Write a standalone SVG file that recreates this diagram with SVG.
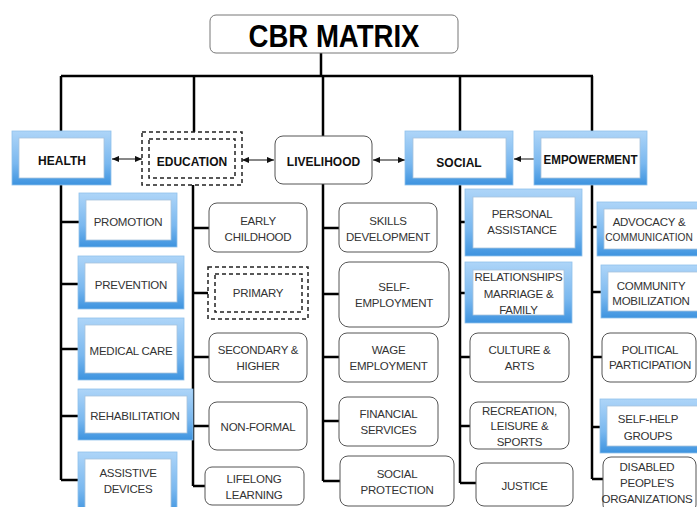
<svg xmlns="http://www.w3.org/2000/svg" width="697" height="507" viewBox="0 0 697 507">
<defs>
<linearGradient id="blueg" x1="0" y1="0" x2="0" y2="1">
<stop offset="0" stop-color="#aed5f8"/>
<stop offset="0.6" stop-color="#7ab8ef"/>
<stop offset="1" stop-color="#3d93df"/>
</linearGradient>
<marker id="ah" viewBox="0 0 8 8" refX="8" refY="4" markerWidth="7" markerHeight="7" markerUnits="userSpaceOnUse" orient="auto-start-reverse">
<path d="M0,0.5 L8,4 L0,7.5 Z" fill="#111"/>
</marker>
</defs>
<style>
.bg{fill:#fff}
.outer{fill:url(#blueg);stroke:#8fc0ec;stroke-width:0.8}
.inner{fill:#fff;stroke:#a8c3dc;stroke-width:0.8}
.rbox{fill:#fff;stroke:#555;stroke-width:1}
.dash{fill:#fff;stroke:#222;stroke-width:1.5;stroke-dasharray:4 3}
.dashin{fill:none;stroke:#222;stroke-width:1.5;stroke-dasharray:4 3}
.conn{fill:none;stroke:#000;stroke-width:2.5}
.arr{fill:none;stroke:#111;stroke-width:1}
.main{font-family:"Liberation Sans",Arial,sans-serif;font-weight:bold;font-size:12px;fill:#111;text-anchor:middle}
.sub{font-family:"Liberation Sans",Arial,sans-serif;font-size:11.5px;fill:#333;text-anchor:middle;letter-spacing:-0.25px}
.title{font-family:"Liberation Sans",Arial,sans-serif;font-weight:bold;font-size:32px;fill:#000;text-anchor:middle}
</style>
<rect class="bg" x="0" y="0" width="697" height="507"/>

<g id="connectors">
<path class="conn" d="M321,53 V76 M61,76 H593 M61,76 V131 M194,76 V132 M323,76 V136 M460,76 V131 M592,76 V131"/>
<path class="conn" d="M61,185 V480 M61,222 H80 M61,284 H79 M61,349 H79 M61,416 H79 M61,480 H79"/>
<path class="conn" d="M193,185 V486 M193,228 H210 M193,293 H209 M193,357 H210 M193,426 H210 M193,486 H206"/>
<path class="conn" d="M323,184 V481 M323,228 H340 M323,294 H340 M323,357 H340 M323,421 H340 M323,481 H341"/>
<path class="conn" d="M460,185 V483 M460,222 H466 M460,293 H466 M460,357 H471 M460,426 H471 M460,483 H477"/>
<path class="conn" d="M592,185 V479 M592,227 H598 M592,292 H602 M592,357 H603 M592,427 H601 M592,479 H604"/>
<path class="arr" marker-start="url(#ah)" marker-end="url(#ah)" d="M112,159 H142"/>
<path class="arr" marker-start="url(#ah)" marker-end="url(#ah)" d="M242,160 H274"/>
<path class="arr" marker-start="url(#ah)" marker-end="url(#ah)" d="M373,160 H405"/>
<path class="arr" marker-end="url(#ah)" d="M534,159 H514"/>
</g>

<g id="title">
<rect x="210" y="15" width="248" height="38" rx="6" fill="#fff" stroke="#777" stroke-width="1"/>
<text class="title" x="334" y="47" textLength="171" lengthAdjust="spacingAndGlyphs">CBR MATRIX</text>
</g>

<g id="health">
<rect class="outer" x="12" y="131" width="99" height="54"/>
<rect class="inner" x="19" y="138" width="85" height="40"/>
<text class="main" x="62" y="165">HEALTH</text>
</g>
<g id="education">
<rect class="dash" x="142" y="132" width="100" height="53"/>
<rect class="dashin" x="149" y="139" width="86" height="39"/>
<text class="main" x="192" y="166">EDUCATION</text>
</g>
<g id="livelihood">
<rect class="rbox" x="275" y="136" width="97" height="48" rx="8"/>
<text class="main" x="323.5" y="166">LIVELIHOOD</text>
</g>
<g id="social">
<rect class="outer" x="405" y="131" width="108" height="54"/>
<rect class="inner" x="413" y="138" width="93" height="40"/>
<text class="main" x="459" y="167">SOCIAL</text>
</g>
<g id="empowerment">
<rect class="outer" x="534" y="131" width="113" height="54"/>
<rect class="inner" x="541" y="138" width="99" height="40"/>
<text class="main" x="590.5" y="164" textLength="94" lengthAdjust="spacingAndGlyphs">EMPOWERMENT</text>
</g>

<g id="promotion">
<rect class="outer" x="79" y="193" width="98" height="54"/>
<rect class="inner" x="86" y="200" width="85" height="40"/>
<text class="sub" x="128" y="226">PROMOTION</text>
</g>
<g id="prevention">
<rect class="outer" x="78" y="256" width="106" height="53"/>
<rect class="inner" x="85" y="263" width="92" height="39"/>
<text class="sub" x="131" y="289">PREVENTION</text>
</g>
<g id="medical-care">
<rect class="outer" x="78" y="318" width="106" height="62"/>
<rect class="inner" x="85" y="325" width="92" height="48"/>
<text class="sub" x="131" y="355">MEDICAL CARE</text>
</g>
<g id="rehabilitation">
<rect class="outer" x="78" y="389" width="115" height="51"/>
<rect class="inner" x="85" y="396" width="102" height="37"/>
<text class="sub" x="135" y="420">REHABILITATION</text>
</g>
<g id="assistive-devices">
<rect class="outer" x="78" y="452" width="99" height="62"/>
<rect class="inner" x="85" y="459" width="86" height="52"/>
<text class="sub" x="128" y="477">ASSISTIVE</text>
<text class="sub" x="128" y="493">DEVICES</text>
</g>

<g id="early-childhood">
<rect class="rbox" x="209" y="203" width="98" height="49" rx="8"/>
<text class="sub" x="258" y="225">EARLY</text>
<text class="sub" x="258" y="241">CHILDHOOD</text>
</g>
<g id="primary">
<rect class="dash" x="208" y="267" width="100" height="52"/>
<rect class="dashin" x="215" y="274" width="87" height="38"/>
<text class="sub" x="258" y="297">PRIMARY</text>
</g>
<g id="secondary-higher">
<rect class="rbox" x="209" y="333" width="98" height="49" rx="8"/>
<text class="sub" x="258" y="354">SECONDARY &amp;</text>
<text class="sub" x="258" y="370">HIGHER</text>
</g>
<g id="non-formal">
<rect class="rbox" x="209" y="402" width="98" height="48" rx="8"/>
<text class="sub" x="258" y="431">NON-FORMAL</text>
</g>
<g id="lifelong-learning">
<rect class="rbox" x="205" y="467" width="99" height="38" rx="7"/>
<text class="sub" x="254" y="483">LIFELONG</text>
<text class="sub" x="254" y="499">LEARNING</text>
</g>

<g id="skills-development">
<rect class="rbox" x="339" y="203" width="98" height="49" rx="8"/>
<text class="sub" x="388" y="225">SKILLS</text>
<text class="sub" x="388" y="241">DEVELOPMENT</text>
</g>
<g id="self-employment">
<rect class="rbox" x="339" y="262" width="110" height="65" rx="10"/>
<text class="sub" x="394" y="291">SELF-</text>
<text class="sub" x="394" y="307">EMPLOYMENT</text>
</g>
<g id="wage-employment">
<rect class="rbox" x="339" y="333" width="99" height="49" rx="8"/>
<text class="sub" x="388.5" y="354">WAGE</text>
<text class="sub" x="388.5" y="370">EMPLOYMENT</text>
</g>
<g id="financial-services">
<rect class="rbox" x="339" y="397" width="99" height="49" rx="8"/>
<text class="sub" x="388.5" y="418">FINANCIAL</text>
<text class="sub" x="388.5" y="434">SERVICES</text>
</g>
<g id="social-protection">
<rect class="rbox" x="340" y="456" width="114" height="50" rx="8"/>
<text class="sub" x="397" y="478">SOCIAL</text>
<text class="sub" x="397" y="494">PROTECTION</text>
</g>

<g id="personal-assistance">
<rect class="outer" x="465" y="189" width="117" height="67"/>
<rect class="inner" x="473" y="197" width="102" height="51"/>
<text class="sub" x="522" y="218">PERSONAL</text>
<text class="sub" x="522" y="234">ASSISTANCE</text>
</g>
<g id="relationships">
<rect class="outer" x="465" y="262" width="107" height="61"/>
<rect class="inner" x="473" y="270" width="91" height="45"/>
<text class="sub" x="518.5" y="281">RELATIONSHIPS</text>
<text class="sub" x="518.5" y="298">MARRIAGE &amp;</text>
<text class="sub" x="518.5" y="314">FAMILY</text>
</g>
<g id="culture-arts">
<rect class="rbox" x="470" y="333" width="99" height="49" rx="8"/>
<text class="sub" x="519.5" y="354">CULTURE &amp;</text>
<text class="sub" x="519.5" y="370">ARTS</text>
</g>
<g id="recreation">
<rect class="rbox" x="470" y="402" width="99" height="47" rx="8"/>
<text class="sub" x="519.5" y="415">RECREATION,</text>
<text class="sub" x="519.5" y="430">LEISURE &amp;</text>
<text class="sub" x="519.5" y="446">SPORTS</text>
</g>
<g id="justice">
<rect class="rbox" x="476" y="463" width="97" height="43" rx="8"/>
<text class="sub" x="524.5" y="490">JUSTICE</text>
</g>

<g id="advocacy">
<rect class="outer" x="597" y="202" width="110" height="54"/>
<rect class="inner" x="604" y="209" width="100" height="40"/>
<text class="sub" x="649" y="226">ADVOCACY &amp;</text>
<text class="sub" x="649" y="241" style="font-size:10.2px;letter-spacing:0">COMMUNICATION</text>
</g>
<g id="community-mobilization">
<rect class="outer" x="601" y="265" width="106" height="53"/>
<rect class="inner" x="608" y="272" width="95" height="39"/>
<text class="sub" x="651" y="290">COMMUNITY</text>
<text class="sub" x="651" y="305">MOBILIZATION</text>
</g>
<g id="political-participation">
<rect class="rbox" x="602" y="333" width="94" height="49" rx="8"/>
<text class="sub" x="650" y="354">POLITICAL</text>
<text class="sub" x="650" y="369">PARTICIPATION</text>
</g>
<g id="self-help-groups">
<rect class="outer" x="600" y="399" width="106" height="54"/>
<rect class="inner" x="607" y="406" width="95" height="40"/>
<text class="sub" x="648" y="423">SELF-HELP</text>
<text class="sub" x="648" y="440">GROUPS</text>
</g>
<g id="dpo">
<rect class="rbox" x="603" y="457" width="93" height="56" rx="8"/>
<text class="sub" x="647" y="471">DISABLED</text>
<text class="sub" x="647" y="487">PEOPLE'S</text>
<text class="sub" x="647" y="503">ORGANIZATIONS</text>
</g>
</svg>
